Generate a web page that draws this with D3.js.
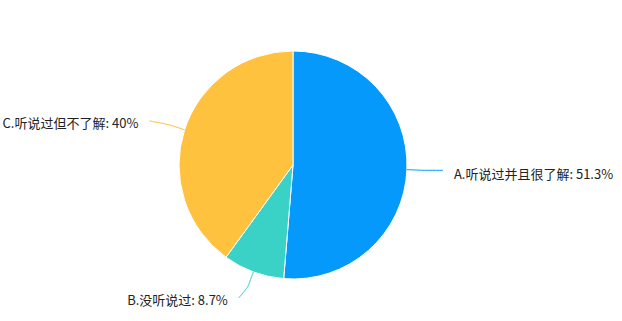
<!DOCTYPE html>
<html>
<head>
<meta charset="utf-8">
<script src="https://cdn.jsdelivr.net/npm/d3@7"></script>
<style>
  body { margin: 0; background: #fff; }
  svg { display: block; }
  text { font-family: "Noto Sans CJK SC", "Noto Sans", sans-serif; font-size: 13px; fill: #222; }
</style>
</head>
<body>
<div id="chart"></div>
<script>
var labels = ['A.听说过并且很了解', 'B.没听说过', 'C.听说过但不了解'];
var values = [51.3, 8.7, 40];
var colors = ['#0599fc', '#3ad1c7', '#ffc23f'];

var width = 622, height = 321;
var cx = 293, cy = 165, radius = 114;
var len1 = 16, len2 = 20;

var svg = d3.select('#chart').append('svg')
	.attr('width', width)
	.attr('height', height);

var g = svg.append('g').attr('transform', 'translate(' + cx + ',' + cy + ')');

var pie = d3.pie().sort(null).value(function(d){ return d; });
var arcs = pie(values);

var arc = d3.arc().innerRadius(0).outerRadius(radius);

g.selectAll('path.slice').data(arcs).enter()
	.append('path')
	.attr('class', 'slice')
	.attr('d', arc)
	.attr('fill', function(d, i){ return colors[i]; })
	.attr('stroke', '#fff')
	.attr('stroke-width', 1);

// label lines, echarts-ish: radial segment then a bend toward the label
function pt(a, r) { return [Math.sin(a) * r, -Math.cos(a) * r]; }

var lineGen = d3.line().curve(d3.curveBasis);

arcs.forEach(function(d, i){
	var a = (d.startAngle + d.endAngle) / 2;
	var side = Math.sin(a) >= 0 ? 1 : -1;
	var p0 = pt(a, radius);
	var p1 = pt(a, radius + len1);
	var p2 = [p1[0] + side * len2, p1[1]];
	if (i == 1) { p2 = [p1[0] - 9, p1[1] + 11]; }
	if (i == 2) { p2 = [p1[0] - len2, p1[1] - 4]; }
	g.append('path')
		.attr('d', lineGen([p0, p1, p1, p2]))
		.attr('fill', 'none')
		.attr('stroke', colors[i])
		.attr('stroke-width', 1);
	var ty = p2[1] + (i == 0 ? 4 : 3);
	g.append('text')
		.attr('x', p2[0] + side * 11)
		.attr('y', ty)
		.attr('dy', '0.35em')
		.attr('text-anchor', side > 0 ? 'start' : 'end')
		.text(labels[i] + ': ' + values[i] + '%');
});
</script>
</body>
</html>
